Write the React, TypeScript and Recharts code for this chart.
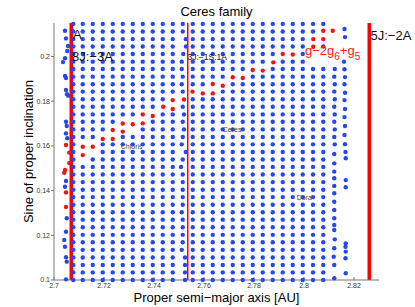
import React from "react";
import { ScatterChart, Scatter, XAxis, YAxis, ReferenceLine } from "recharts";

// proper inclination rows of the sampled grid
const gridRows = [
  0.1, 0.1034, 0.1067, 0.1101, 0.1135, 0.1169, 0.1202, 0.1236, 0.127, 0.1303,
  0.1337, 0.1371, 0.1404, 0.1438, 0.1472, 0.1506, 0.1539, 0.1573, 0.1607, 0.164,
  0.1674, 0.1708, 0.1741, 0.1775, 0.1809, 0.1843, 0.1876, 0.191, 0.1944, 0.1977,
  0.2011, 0.2045, 0.2078, 0.2112, 0.2146,
];

// semi-major axis columns that are filled on every row
const gridColumns = [
  2.7077, 2.7115, 2.7155, 2.7195, 2.7235, 2.7275, 2.7315, 2.7355, 2.7395, 2.7435,
  2.7475, 2.7555, 2.7595, 2.7635, 2.7675, 2.7715, 2.7755, 2.7795, 2.7835, 2.7875,
  2.7915, 2.7955, 2.7995, 2.8036, 2.8077,
];

// column next to the 3J-1S-1A line, one a per row
const midColumnX = [
  2.7524, 2.7524, 2.7524, 2.7524, 2.7511, 2.7515, 2.7515, 2.7515, 2.7515, 2.7511,
  2.7515, 2.7515, 2.7515, 2.7515, 2.7515, 2.7508, 2.7515, 2.7527, 2.7511, 2.7515,
  2.752, 2.7515, 2.752, 2.7515, 2.752, 2.7515, 2.7511, 2.7515, 2.7511, 2.7511,
  2.7517, 2.7528, 2.7527, 2.7515, 2.7515,
];

const leftEdge: [number, number][] = [
  [2.7044, 0.2115], [2.7048, 0.2081], [2.7056, 0.2047], [2.7053, 0.2025],
  [2.7044, 0.1992], [2.7036, 0.1975], [2.7044, 0.1913], [2.7048, 0.1904],
  [2.7048, 0.185], [2.7052, 0.1831], [2.7057, 0.1825], [2.7048, 0.1708],
  [2.7051, 0.1689], [2.7048, 0.1656], [2.7053, 0.1634], [2.7048, 0.1507],
  [2.7048, 0.147], [2.7048, 0.1443], [2.7044, 0.1417], [2.7051, 0.1311],
  [2.7051, 0.1276], [2.7048, 0.1216], [2.7041, 0.1179], [2.7044, 0.1149],
  [2.7048, 0.1102], [2.7051, 0.1082], [2.7048, 0.1003],
];

const colC: [number, number][] = [
  [2.8121, 0.1008], [2.8121, 0.1067], [2.8119, 0.1104], [2.8121, 0.1142],
  [2.8123, 0.1182], [2.8121, 0.1224], [2.8121, 0.1246], [2.8121, 0.1276],
  [2.8121, 0.1313], [2.8121, 0.135], [2.8121, 0.1388], [2.8121, 0.1421],
  [2.8121, 0.1455], [2.8121, 0.1485], [2.8121, 0.1522], [2.8121, 0.1564],
  [2.8123, 0.1607], [2.8121, 0.164], [2.8123, 0.1674], [2.8121, 0.1708],
  [2.8123, 0.1741], [2.8121, 0.1775], [2.8123, 0.1809], [2.8121, 0.1843],
  [2.8123, 0.1876], [2.8121, 0.191], [2.8123, 0.1944],
];

const colD: [number, number][] = [
  [2.8162, 0.2123], [2.8164, 0.2087], [2.816, 0.1977], [2.8162, 0.1943],
  [2.8164, 0.1908], [2.8162, 0.1876], [2.8164, 0.1838], [2.8162, 0.1805],
  [2.8164, 0.1765], [2.8162, 0.1729], [2.8164, 0.1689], [2.8162, 0.1649],
  [2.8164, 0.1608], [2.8166, 0.1573], [2.8167, 0.1545], [2.8167, 0.1447],
  [2.8167, 0.1415], [2.8167, 0.1164], [2.8166, 0.1149], [2.8167, 0.1127],
  [2.8166, 0.1097], [2.8167, 0.103],
];

// g - 2g6 + g5 secular resonance members
const resonancePts: [number, number][] = [
  [2.7048, 0.1604], [2.7061, 0.157], [2.7061, 0.1523], [2.7044, 0.1492],
  [2.7041, 0.148], [2.7048, 0.1392], [2.7048, 0.1327], [2.7115, 0.1559],
  [2.7115, 0.1596], [2.7155, 0.1596], [2.7195, 0.1631], [2.7235, 0.1631],
  [2.7235, 0.1671], [2.7275, 0.1664], [2.7275, 0.17], [2.7315, 0.1697],
  [2.7355, 0.1701], [2.7355, 0.1741], [2.7395, 0.1734], [2.7437, 0.1775],
  [2.7475, 0.1765], [2.7475, 0.1805], [2.752, 0.1808], [2.7554, 0.1843],
  [2.7595, 0.1835], [2.7635, 0.1835], [2.7635, 0.1877], [2.7675, 0.1869],
  [2.7715, 0.1907], [2.7755, 0.1904], [2.7795, 0.194], [2.7835, 0.1937],
  [2.7877, 0.1974], [2.7915, 0.2011], [2.7955, 0.2009], [2.8037, 0.2044],
  [2.8037, 0.2078], [2.8077, 0.2078], [2.8077, 0.2115], [2.8115, 0.2115],
];

// grid cells left empty behind the resonance label
const hiddenGrid: [number, number][] = [
  [2.8036, 0.1977], [2.8036, 0.2011], [2.8077, 0.1977], [2.8077, 0.2011],
];

const resonanceLines = [2.7069, 2.7535, 2.8261];

const annotations = [
  { x: 2.7076, y: 0.2078, text: "A" },
  { x: 2.7072, y: 0.1978, text: "8J:\u22123A" },
  { x: 2.7534, y: 0.1984, text: "3J:\u22121S:1A" },
  { x: 2.8004, y: 0.2007, text: "g-2g6+g5" },
  { x: 2.8266, y: 0.2074, text: "5J:\u22122A" },
  { x: 2.7267, y: 0.1588, text: "Chloris" },
  { x: 2.7675, y: 0.1664, text: "Ceres" },
  { x: 2.7971, y: 0.1358, text: "Dora" },
];

const xTicks = [2.7, 2.72, 2.74, 2.76, 2.78, 2.8, 2.82];
const yTicks = [0.1, 0.12, 0.14, 0.16, 0.18, 0.2];

const near = (a: [number, number], b: [number, number]) =>
  Math.abs(a[0] - b[0]) < 0.0013 && Math.abs(a[1] - b[1]) < 0.0023;

const blocked = [...resonancePts, ...hiddenGrid];
const gridPts: [number, number][] = gridColumns.flatMap((x) =>
  gridRows.map((y) => [x, y] as [number, number])
);
const midPts: [number, number][] = midColumnX.map((x, i) => [x, gridRows[i]]);

const bluePts = [...gridPts, ...midPts, ...leftEdge, ...colC, ...colD]
  .filter((p) => !blocked.some((b) => near(p, b)))
  .map(([x, y]) => ({ x, y }));
const redPts = resonancePts.map(([x, y]) => ({ x, y }));

const BLUE = "#2447f2";
const RED = "#f01414";

const dot = (color: string) => (p: any) =>
  <circle cx={p.cx} cy={p.cy} r={2.2} fill={color} />;

const fmt = (v: number) => String(Number(v.toFixed(2)));

function renderLabel(p: any) {
  const t = p.payload.text;
  if (t === "g-2g6+g5") {
    return (
      <text x={p.cx} y={p.cy} fill="#ff1a1a" fontSize={13}>
        g{"\u2212"}2g<tspan fontSize={10} dy={5}>6</tspan>
        <tspan dy={-5}>+g</tspan>
        <tspan fontSize={10} dy={5}>5</tspan>
      </text>
    );
  }
  const small = t === "Chloris" || t === "Ceres" || t === "Dora";
  const mid = t.startsWith("3J");
  return (
    <text
      x={p.cx}
      y={p.cy}
      fill={small ? "#444" : "#111"}
      fontSize={small ? 7 : mid ? 8.5 : 13}
    >
      {t}
    </text>
  );
}

export default function App() {
  return (
    <div style={{ position: "absolute", left: 0, top: 0, fontFamily: "'Liberation Sans', Arial, sans-serif" }}>
      <ScatterChart width={415} height={307} margin={{ top: 23, right: 36, left: 0, bottom: 0 }}>
        <XAxis
          type="number"
          dataKey="x"
          domain={[2.7, 2.83]}
          ticks={xTicks}
          tickFormatter={fmt}
          height={27}
          tickSize={-3}
          tickMargin={6}
          tick={{ fontSize: 7, fill: "#333" }}
          axisLine={{ stroke: "#777" }}
          tickLine={{ stroke: "#777" }}
          label={{ value: "Proper semi\u2212major axis [AU]", position: "insideBottom", offset: 5.5, fontSize: 13, fill: "#000" }}
        />
        <YAxis
          type="number"
          dataKey="y"
          domain={[0.1, 0.215]}
          ticks={yTicks}
          tickFormatter={fmt}
          width={54}
          tickSize={3}
          tickMargin={1}
          tick={{ fontSize: 7, fill: "#333" }}
          axisLine={{ stroke: "#777" }}
          tickLine={{ stroke: "#777" }}
          label={{ value: "Sine of proper inclination", angle: -90, position: "insideLeft", offset: 28, fontSize: 13, fill: "#000", style: { textAnchor: "middle" } }}
        />
        <ReferenceLine
          y={0.215}
          stroke="none"
          label={{ value: "Ceres family", position: "top", offset: 7, fontSize: 13, fill: "#000" }}
        />
        <Scatter data={bluePts} fill={BLUE} shape={dot(BLUE)} isAnimationActive={false} />
        <Scatter data={redPts} fill={RED} shape={dot(RED)} isAnimationActive={false} />
        {resonanceLines.map((x, i) => (
          <ReferenceLine key={x} x={x} stroke="#ff0000" strokeWidth={i === 1 ? 1.5 : 3.5} />
        ))}
        <Scatter data={annotations} shape={renderLabel} isAnimationActive={false} />
      </ScatterChart>
    </div>
  );
}
